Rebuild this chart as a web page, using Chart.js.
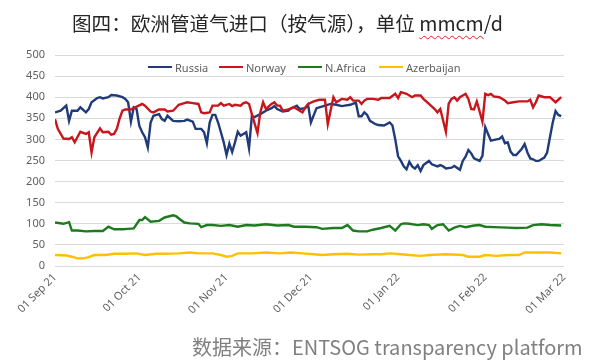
<!DOCTYPE html>
<html><head><meta charset="utf-8">
<script src="https://cdn.jsdelivr.net/npm/chart.js@4/dist/chart.umd.min.js"></script>
<style>
html,body{margin:0;padding:0;background:#fff;}
#wrap{position:relative;width:600px;height:363px;overflow:hidden;background:#fff;}
#chart{position:absolute;left:0;top:0;}
#title{position:absolute;left:72px;top:9px;white-space:nowrap;font-family:"Noto Sans CJK SC",sans-serif;font-size:19.6px;line-height:28px;color:#262626;}
#title .sp{text-decoration:underline wavy #e02020;text-decoration-thickness:1px;text-underline-offset:4px;}
#footer{position:absolute;left:192px;top:333px;white-space:nowrap;font-family:"Noto Sans CJK SC",sans-serif;font-size:20px;line-height:28px;color:#808080;}
#legend{position:absolute;left:0;top:60px;width:600px;height:14px;}
.li{position:absolute;top:0;height:14px;display:flex;align-items:center;font-family:"Noto Sans",sans-serif;font-size:11px;color:#5f5f5f;white-space:nowrap;}
.li .ln{display:inline-block;width:24px;height:2.4px;margin-right:3px;}
</style></head>
<body><div id="wrap">
<canvas id="chart" width="600" height="363"></canvas>
<div id="title">图四：欧洲管道气进口（按气源），单位 <span class="sp">mmcm</span>/d</div>
<div id="legend"></div>
<div id="footer">数据来源：ENTSOG transparency platform</div>
</div>
<script>
// x = day index from 01 Sep 21, y = mmcm/d
const seriesNames = ['Russia', 'Norway', 'N.Africa', 'Azerbaijan'];
const seriesColors = ['#1F3B7A', '#C8161D', '#1E7A1E', '#FFC000'];
const tickDays = [0, 30, 61, 91, 122, 153, 181];
const tickLabels = ['01 Sep 21', '01 Oct 21', '01 Nov 21', '01 Dec 21', '01 Jan 22', '01 Feb 22', '01 Mar 22'];
const yTicks = [0, 50, 100, 150, 200, 250, 300, 350, 400, 450, 500];

const russia = [[0,364],[2,368],[4,380],[5,344],[6,368],[8,368],[9,376],[11,364],[12,372],[13,388],[15,398],[16,400],[17,397],[19,400],[20,405],[22,404],[24,400],[25,396],[26,388],[27,342],[28,376],[29,372],[30,332],[31,317],[32,305],[33,281],[34,340],[35,356],[37,360],[38,348],[39,344],[40,356],[42,344],[44,343],[46,344],[47,347],[49,342],[50,325],[52,325],[53,317],[54,291],[55,340],[56,358],[57,358],[58,340],[59,317],[60,293],[61,263],[62,290],[63,270],[64,293],[65,318],[66,309],[67,313],[68,317],[69,279],[70,355],[71,353],[73,360],[75,368],[77,374],[78,379],[79,372],[81,366],[83,368],[84,374],[86,380],[87,372],[89,374],[90,382],[91,340],[93,374],[94,376],[96,380],[98,384],[100,382],[102,379],[103,380],[105,382],[107,387],[108,355],[109,355],[110,364],[111,358],[112,344],[114,336],[115,334],[117,333],[119,340],[120,333],[121,300],[122,260],[123,249],[124,236],[125,229],[126,247],[127,236],[128,231],[129,239],[130,225],[131,239],[133,249],[134,241],[136,236],[137,239],[138,236],[139,231],[141,233],[142,237],[144,228],[145,249],[146,259],[147,275],[148,267],[149,255],[151,249],[152,261],[153,329],[154,313],[155,297],[157,300],[158,301],[159,307],[160,291],[161,293],[162,271],[163,263],[164,263],[166,278],[167,289],[168,269],[169,255],[170,253],[171,249],[172,249],[174,257],[175,269],[176,305],[177,340],[178,367],[179,358],[180,355]];

const norway = [[0,348],[1,325],[3,302],[5,301],[6,305],[7,293],[9,318],[11,313],[12,317],[13,269],[14,305],[16,326],[17,317],[19,318],[20,311],[21,313],[22,325],[23,350],[24,368],[25,371],[27,371],[28,374],[31,384],[32,380],[34,366],[35,364],[37,371],[39,371],[40,366],[42,368],[44,382],[46,386],[47,388],[49,386],[51,384],[52,364],[53,362],[55,364],[56,380],[58,380],[59,386],[60,380],[62,384],[63,379],[64,382],[66,380],[67,386],[68,388],[69,384],[70,360],[72,315],[73,364],[74,388],[75,372],[77,384],[78,388],[79,380],[80,380],[81,368],[83,371],[85,376],[87,368],[88,364],[89,376],[90,384],[92,390],[94,394],[96,394],[97,336],[99,400],[100,388],[102,396],[104,394],[105,400],[106,392],[108,392],[109,384],[110,392],[111,396],[113,396],[115,394],[116,398],[118,398],[119,398],[121,408],[122,398],[123,412],[125,408],[127,400],[128,404],[130,404],[131,396],[133,384],[135,372],[136,364],[137,372],[139,318],[140,385],[141,396],[142,400],[143,392],[144,400],[146,408],[147,396],[148,372],[149,371],[150,390],[152,342],[153,408],[154,405],[155,408],[156,402],[158,400],[160,392],[161,386],[163,388],[165,390],[168,390],[169,394],[170,376],[171,388],[172,404],[174,400],[176,400],[178,388],[180,400]];

const nAfrica = [[0,103],[3,100],[5,104],[6,84],[8,84],[11,82],[14,83],[17,83],[19,93],[21,87],[24,87],[26,88],[28,89],[30,109],[31,109],[32,116],[34,105],[37,107],[39,115],[42,120],[43,118],[45,108],[46,103],[48,101],[51,100],[52,92],[54,97],[56,97],[59,95],[62,97],[65,93],[68,97],[71,96],[75,99],[79,96],[83,97],[85,93],[89,93],[93,92],[95,88],[99,90],[102,90],[104,97],[106,84],[108,82],[111,82],[113,86],[116,90],[119,95],[121,84],[123,99],[124,101],[126,100],[129,97],[131,99],[133,97],[134,88],[136,97],[138,99],[140,84],[142,91],[144,95],[146,92],[149,96],[151,97],[153,93],[156,92],[161,91],[164,90],[168,91],[170,97],[173,99],[176,97],[180,96]];

const azerbaijan = [[0,26],[4,25],[6,22],[8,18],[10,18],[12,21],[14,26],[18,26],[21,29],[25,29],[29,30],[32,26],[36,29],[39,29],[44,30],[48,32],[51,30],[56,30],[59,26],[61,22],[63,24],[65,30],[70,30],[75,32],[80,30],[84,32],[88,30],[92,28],[95,26],[99,28],[104,29],[108,27],[113,28],[116,28],[119,30],[123,28],[126,26],[130,24],[133,26],[139,28],[145,26],[147,22],[151,22],[153,26],[157,24],[161,26],[165,26],[167,32],[171,32],[176,32],[180,30]];

const allSeries = [russia, norway, nAfrica, azerbaijan];

// HTML legend
const legendEl = document.getElementById('legend');
const legendLeft = [148, 219, 298, 379];
seriesNames.forEach((n, i) => {
  const d = document.createElement('div');
  d.className = 'li';
  d.style.left = legendLeft[i] + 'px';
  d.innerHTML = '<span class="ln" style="background:' + seriesColors[i] + '"></span>' + n;
  legendEl.appendChild(d);
});

Chart.defaults.font.family = "'Noto Sans', sans-serif";
Chart.defaults.font.size = 11;
Chart.defaults.color = '#5f5f5f';

new Chart(document.getElementById('chart'), {
  type: 'line',
  data: {
    datasets: allSeries.map((s, i) => ({
      label: seriesNames[i],
      data: s.map(p => ({x: p[0], y: p[1]})),
      borderColor: seriesColors[i],
      backgroundColor: seriesColors[i],
      borderWidth: 2.4,
      pointRadius: 0,
      tension: 0,
      fill: false
    })).reverse()
  },
  options: {
    responsive: false,
    animation: false,
    devicePixelRatio: 1,
    layout: {padding: {top: 55, right: 36, left: 0, bottom: 0}},
    plugins: {legend: {display: false}, tooltip: {enabled: false}},
    scales: {
      x: {
        type: 'linear',
        min: tickDays[0],
        max: tickDays[tickDays.length - 1],
        afterBuildTicks: sc => { sc.ticks = tickDays.map(v => ({value: v})); },
        afterFit: sc => { sc.height = 97; },
        grid: {display: false, drawTicks: false},
        border: {display: false},
        ticks: {
          autoSkip: false,
          minRotation: 45,
          maxRotation: 45,
          padding: 5,
          color: '#5f5f5f',
          callback: v => tickLabels[tickDays.indexOf(v)]
        }
      },
      y: {
        min: 0,
        max: 500,
        afterBuildTicks: sc => { sc.ticks = yTicks.map(v => ({value: v})); },
        afterFit: sc => { sc.width = 55; },
        grid: {color: '#D9D9D9', lineWidth: 1, drawTicks: false},
        border: {display: false},
        ticks: {padding: 10, color: '#5f5f5f'}
      }
    }
  }
});
</script>
</body></html>
